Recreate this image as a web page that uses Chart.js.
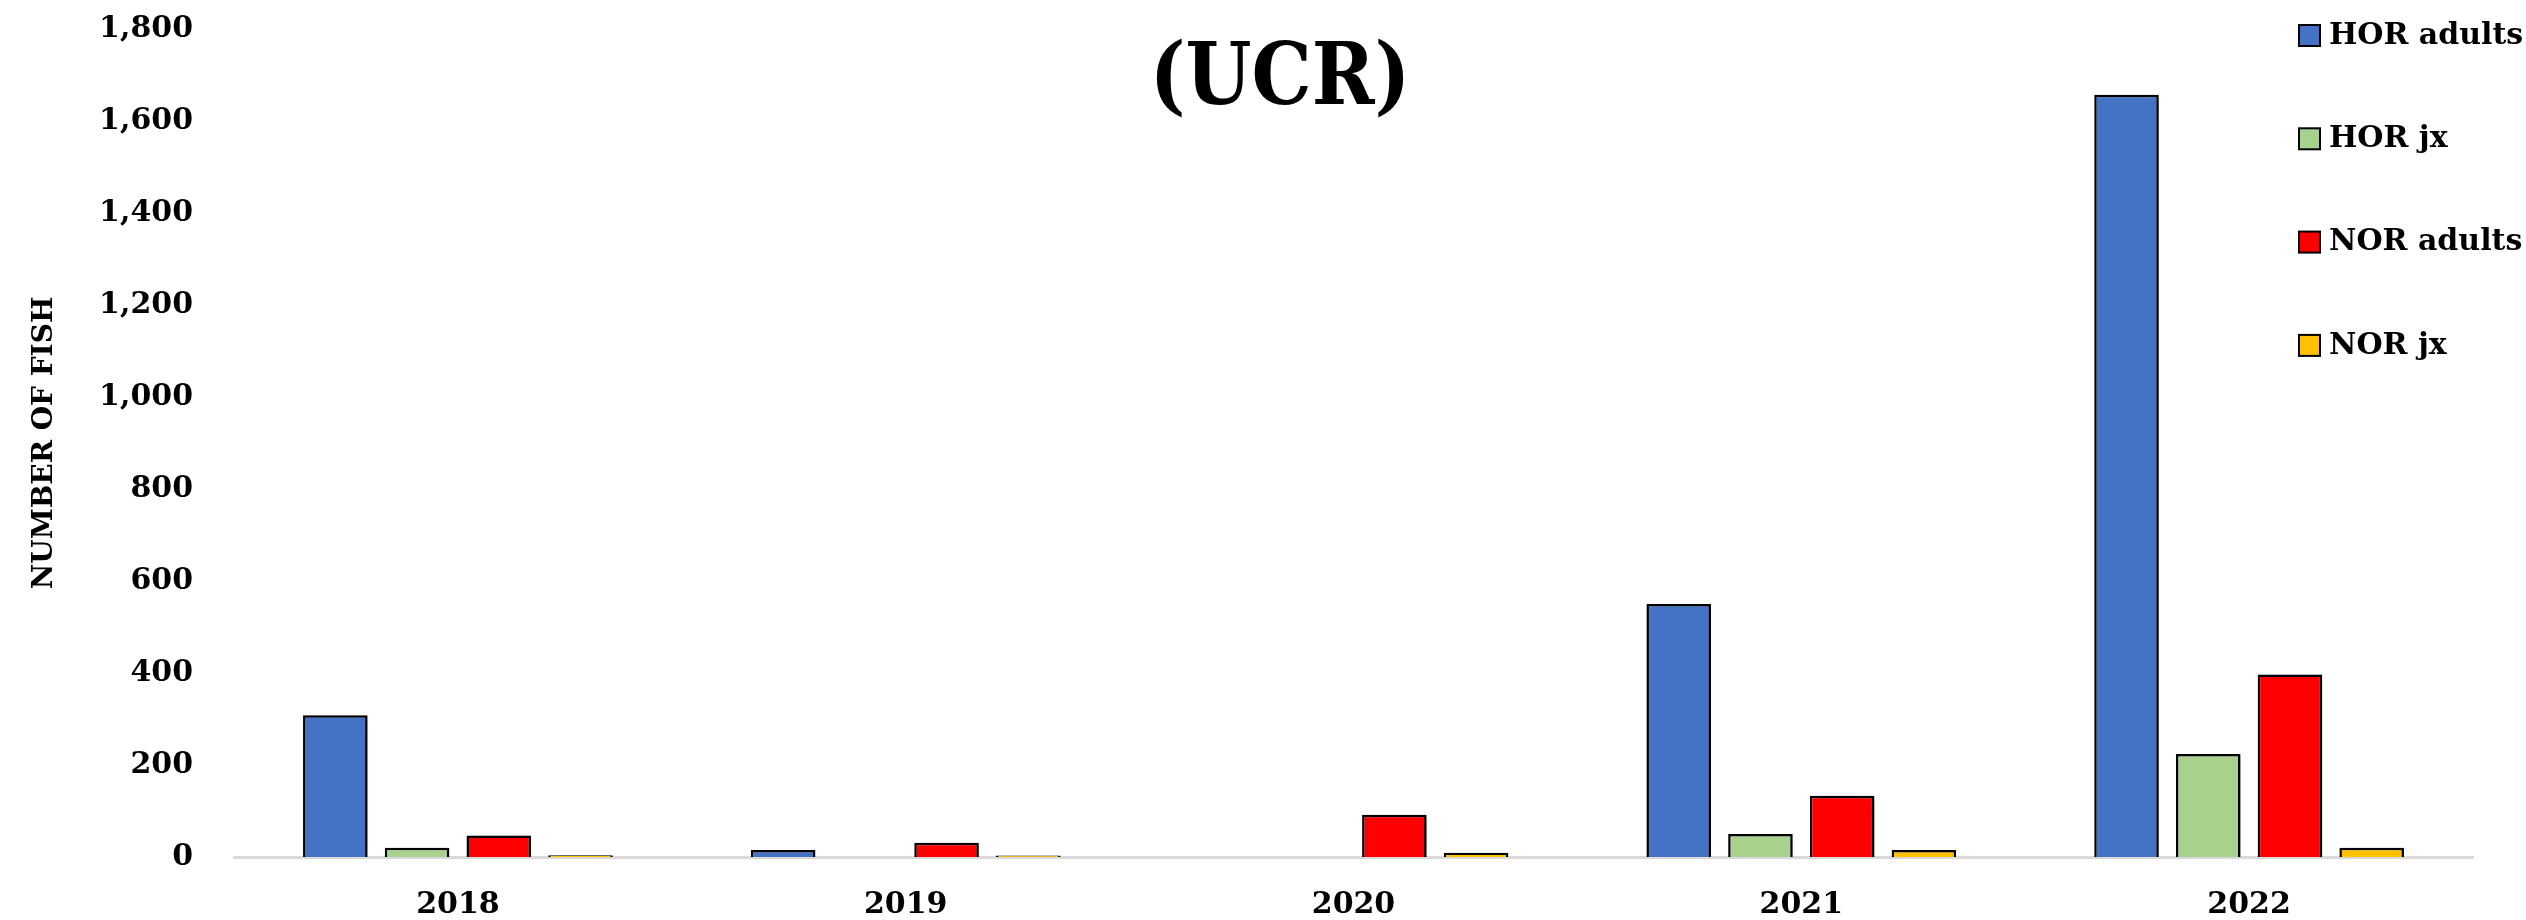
<!DOCTYPE html>
<html>
<head>
<meta charset="utf-8">
<script src="https://cdn.jsdelivr.net/npm/chart.js@4.4.1/dist/chart.umd.min.js"></script>
<style>
  html, body { margin: 0; padding: 0; background: #fff; }
  #wrap { width: 2526px; height: 920px; position: relative; }
</style>
</head>
<body>
<div id="wrap"><canvas id="chart" width="2526" height="920"></canvas></div>
<script>
// --- Data ---
const years = ["2018", "2019", "2020", "2021", "2022"];
const horAdults = [308, 15, 0, 550, 1657];
const horJx = [20, 0, 0, 50, 224];
const norAdults = [47, 31, 92, 133, 397];
const norJx = [4, 3, 9, 15, 20];

const seriesNames = ["HOR adults", "HOR jx", "NOR adults", "NOR jx"];
const seriesColors = ["#4472C4", "#A9D18E", "#FF0000", "#FFC000"];
const yTicks = { min: 0, max: 1800, step: 200 };

const FONT = "'DejaVu Serif', 'Liberation Serif', serif";

// --- Plugins: bar shadow, title overlay, legend overlay ---
const barShadow = {
  id: "barShadow",
  beforeDatasetsDraw: (chart) => {
    const ctx = chart.ctx;
    ctx.save();
    ctx.shadowColor = "rgba(0,0,0,0.35)";
    ctx.shadowBlur = 8;
    ctx.shadowOffsetX = 6;
    ctx.shadowOffsetY = 2;
  },
  afterDatasetsDraw: (chart) => {
    chart.ctx.restore();
  },
};

const overlayTitle = {
  id: "overlayTitle",
  afterDraw: (chart) => {
    const ctx = chart.ctx;
    ctx.save();
    ctx.fillStyle = "#000";
    ctx.font = `bold 86px ${FONT}`;
    ctx.textAlign = "center";
    ctx.textBaseline = "alphabetic";
    // Cambria-like narrower shape
    ctx.translate(1280, 104);
    ctx.scale(0.88, 1);
    ctx.fillText("(UCR)", 0, 0);
    ctx.restore();
  },
};

const overlayLegend = {
  id: "overlayLegend",
  afterDraw: (chart) => {
    const ctx = chart.ctx;
    ctx.save();
    ctx.font = `bold 30px ${FONT}`;
    ctx.textBaseline = "middle";
    ctx.textAlign = "left";
    chart.data.datasets.forEach((ds, i) => {
      const cy = 35 + i * 103.3;
      ctx.fillStyle = ds.backgroundColor;
      ctx.fillRect(2299, cy - 10, 21, 21);
      ctx.lineWidth = 2;
      ctx.strokeStyle = "#000";
      ctx.strokeRect(2299, cy - 10, 21, 21);
      ctx.fillStyle = "#000";
      ctx.fillText(ds.label, 2329, cy + 1);
    });
    ctx.restore();
  },
};

// --- Chart ---
const datasets = [horAdults, horJx, norAdults, norJx].map((values, i) => ({
  label: seriesNames[i],
  data: values,
  backgroundColor: seriesColors[i],
  borderColor: "#000",
  borderWidth: 2.5,
  borderSkipped: "start",
  categoryPercentage: 0.73,
  barPercentage: 0.79,
}));

new Chart(document.getElementById("chart"), {
  type: "bar",
  data: { labels: years, datasets },
  plugins: [barShadow, overlayTitle, overlayLegend],
  options: {
    responsive: false,
    animation: false,
    devicePixelRatio: 1,
    layout: { padding: { top: 29, right: 53, bottom: 0, left: 0 } },
    plugins: {
      legend: { display: false },
      title: { display: false },
      tooltip: { enabled: false },
    },
    scales: {
      x: {
        grid: { display: false, drawTicks: false },
        border: { display: true, color: "#D9D9D9", width: 3 },
        ticks: {
          color: "#000",
          padding: 30,
          font: { family: FONT, size: 30, weight: "bold" },
        },
        afterFit: (scale) => {
          scale.height = 63;
          scale.paddingLeft = 0;
          scale.paddingRight = 0;
        },
      },
      y: {
        min: yTicks.min,
        max: yTicks.max,
        grid: { display: false, drawTicks: false },
        border: { display: false },
        ticks: {
          stepSize: yTicks.step,
          color: "#000",
          padding: 41,
          font: { family: FONT, size: 30, weight: "bold" },
          callback: (v) => v.toLocaleString("en-US"),
        },
        title: {
          display: true,
          text: "NUMBER OF FISH",
          color: "#000",
          padding: { top: 28, bottom: 0 },
          font: { family: FONT, size: 28, weight: "bold" },
        },
        afterFit: (scale) => {
          scale.width = 234;
          // tick padding would otherwise push the plot top down
          scale.paddingTop = 0;
          scale.paddingBottom = 0;
        },
      },
    },
  },
});
</script>
</body>
</html>
